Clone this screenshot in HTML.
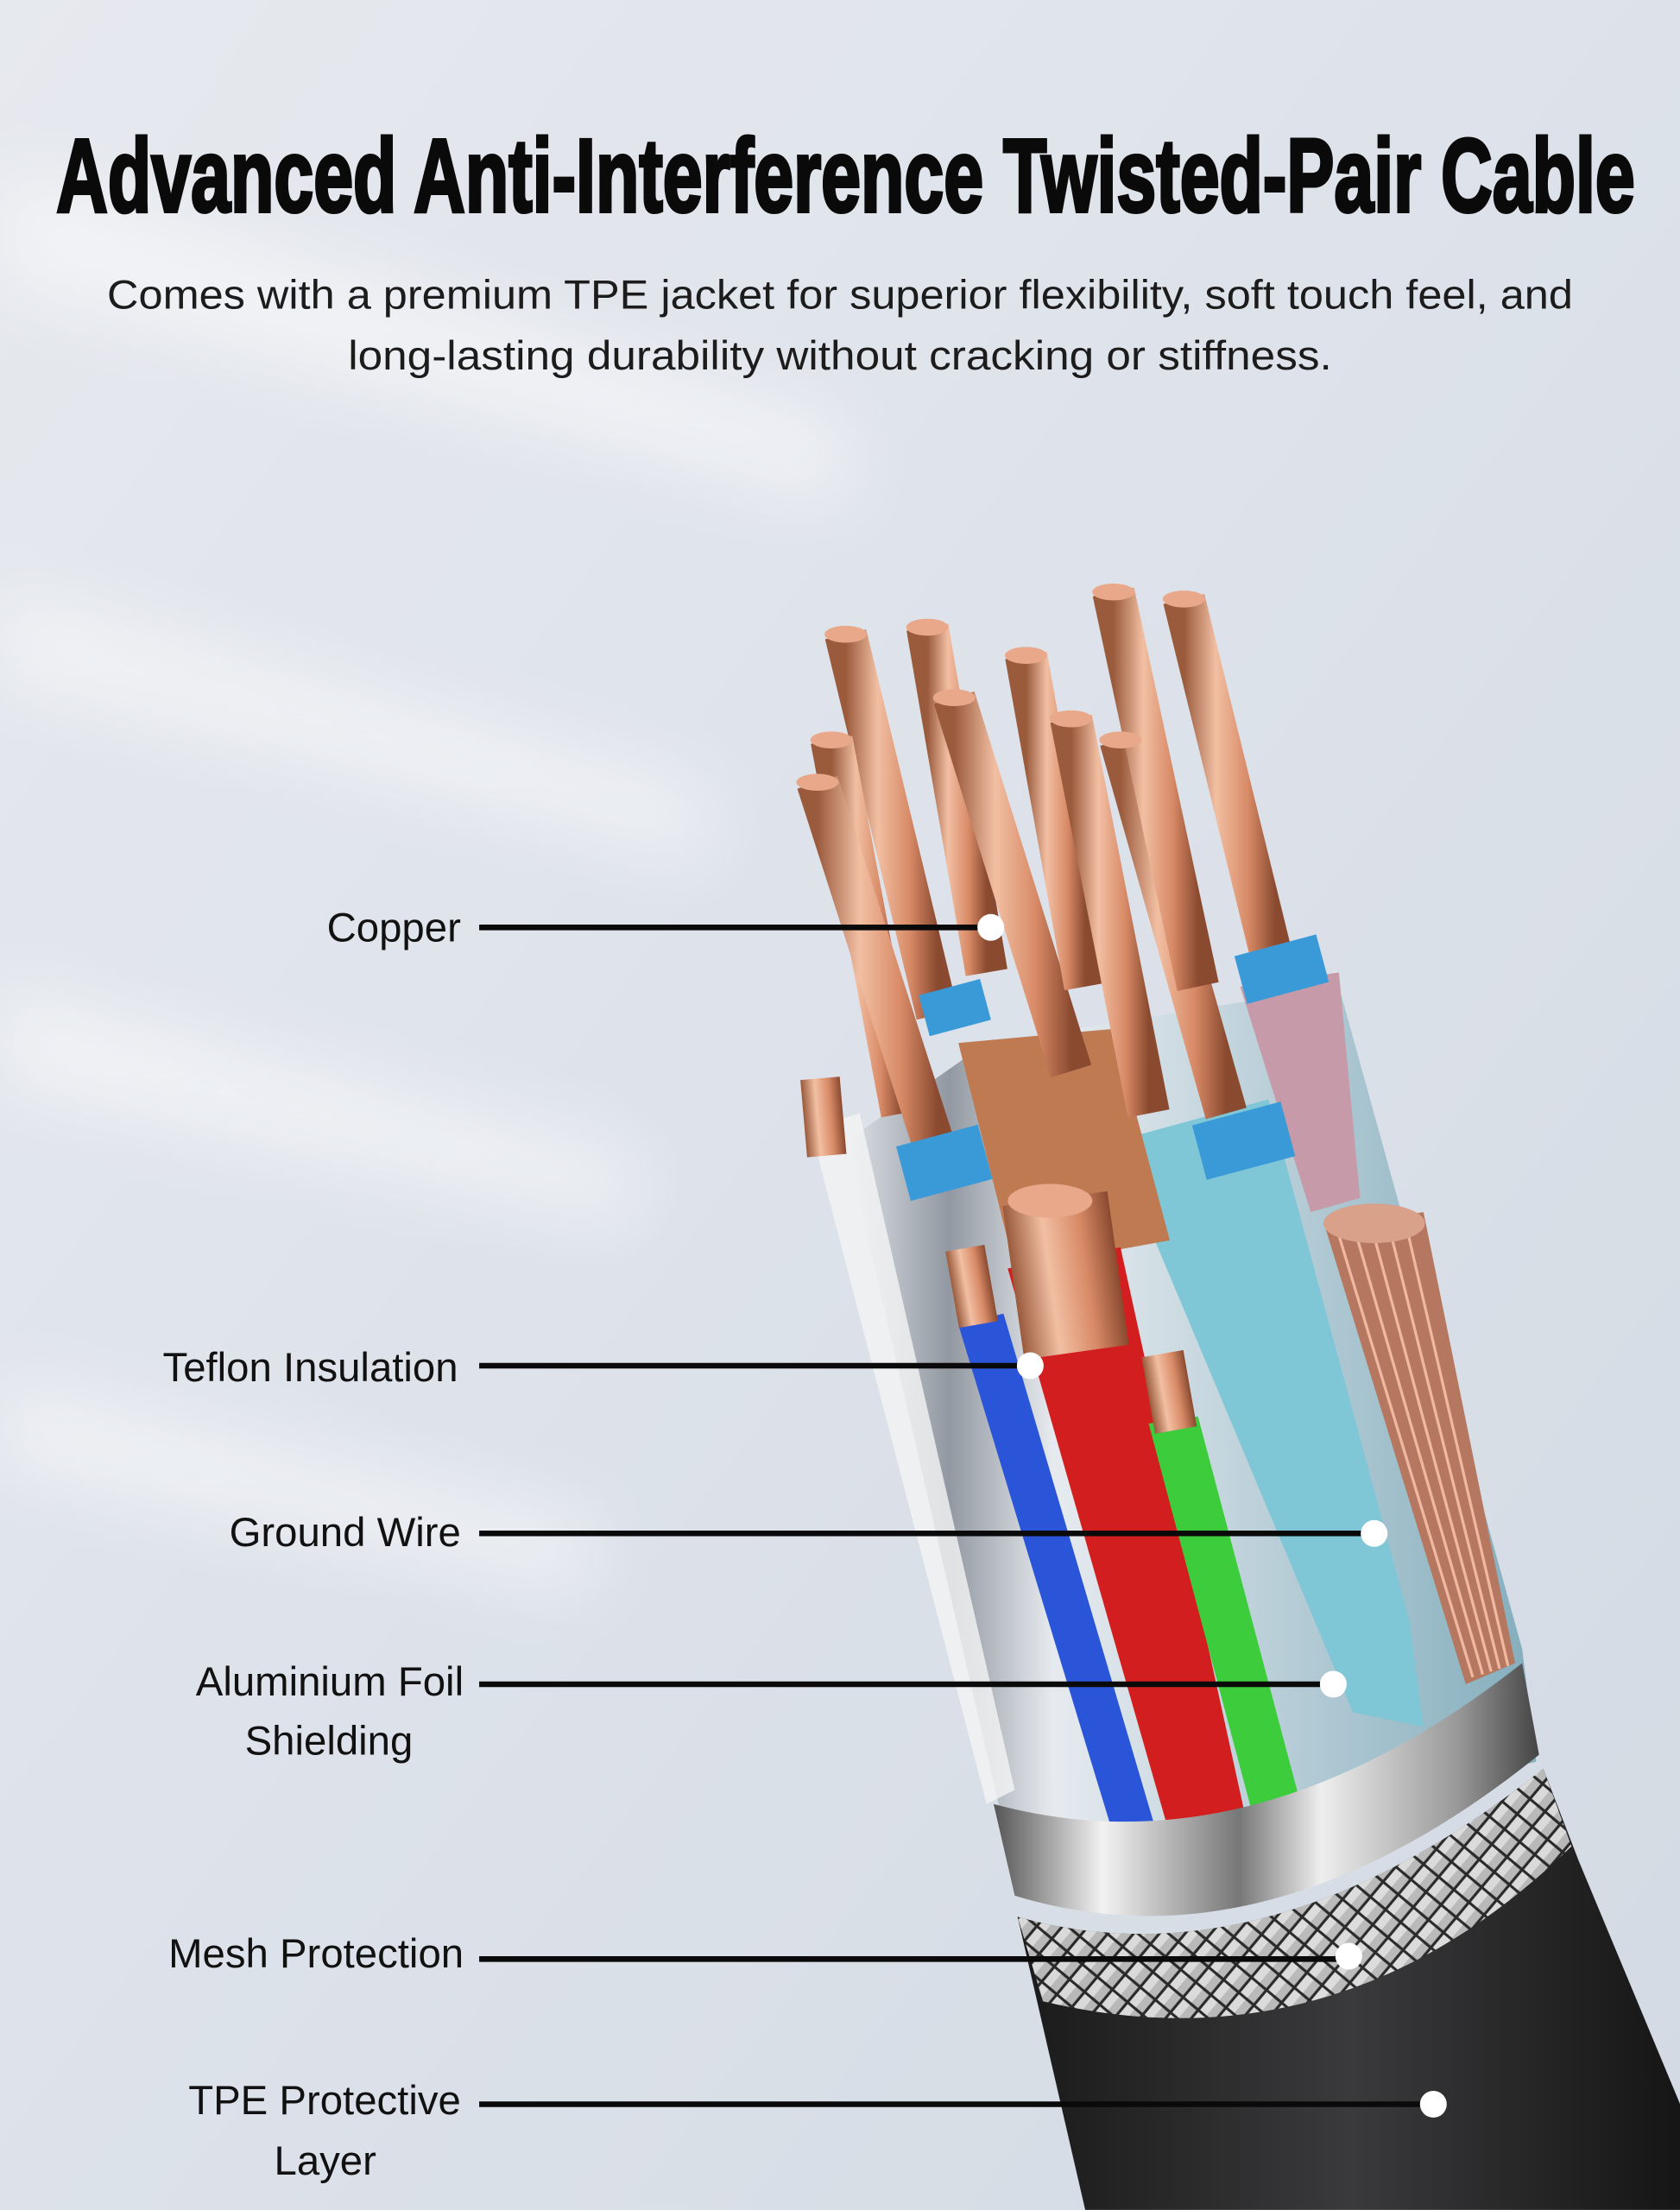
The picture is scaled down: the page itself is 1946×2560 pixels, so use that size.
<!DOCTYPE html>
<html><head><meta charset="utf-8"><style>
html,body{margin:0;padding:0;width:1946px;height:2560px;overflow:hidden;background:#e1e6ec}
svg{display:block}
</style></head><body>
<svg width="1946" height="2560" viewBox="0 0 1192 1568" xmlns="http://www.w3.org/2000/svg">
<defs>
<linearGradient id="bg" x1="0" y1="0" x2="1" y2="1">
<stop offset="0" stop-color="#e6e9ee"/><stop offset="0.5" stop-color="#dde2ea"/><stop offset="1" stop-color="#d3dae3"/></linearGradient>
<linearGradient id="cu" x1="0" y1="0" x2="1" y2="0">
<stop offset="0" stop-color="#9a5a3c"/><stop offset="0.35" stop-color="#f2bfa3"/><stop offset="0.7" stop-color="#d88a66"/><stop offset="1" stop-color="#8a4a30"/></linearGradient>
<linearGradient id="silver" x1="0" y1="0" x2="1" y2="0">
<stop offset="0" stop-color="#555"/><stop offset="0.2" stop-color="#f2f2f2"/><stop offset="0.45" stop-color="#777"/><stop offset="0.6" stop-color="#eee"/><stop offset="0.85" stop-color="#999"/><stop offset="1" stop-color="#444"/></linearGradient>
<linearGradient id="jk" x1="0" y1="0" x2="1" y2="0">
<stop offset="0" stop-color="#1a1a1a"/><stop offset="0.5" stop-color="#3a3a3c"/><stop offset="1" stop-color="#151515"/></linearGradient>
<pattern id="mesh" width="14" height="14" patternUnits="userSpaceOnUse" patternTransform="rotate(40)">
<rect width="14" height="14" fill="#2a2a2a"/><rect x="1" y="1" width="12" height="12" fill="#c9c9c9"/><rect x="1" y="1" width="6" height="12" fill="#eee"/></pattern>
<linearGradient id="foil" x1="0" y1="0" x2="1" y2="0">
<stop offset="0" stop-color="#dfe3e8"/><stop offset="0.15" stop-color="#8a9099"/><stop offset="0.3" stop-color="#e8ecf0"/><stop offset="1" stop-color="#7aa8b8"/></linearGradient>
<filter id="bl"><feGaussianBlur stdDeviation="25"/></filter>
</defs>
<rect width="1192" height="1568" fill="url(#bg)"/>
<g opacity="0.5" fill="#fff" filter="url(#bl)">
<polygon points="0,120 600,300 600,360 0,200"/><polygon points="0,420 500,560 500,610 0,480"/><polygon points="0,700 450,820 450,870 0,770"/><polygon points="0,980 420,1080 420,1130 0,1040"/>
</g>
<text x="600" y="150" text-anchor="middle" font-family="Liberation Sans, sans-serif" font-weight="bold" font-size="74" fill="#0a0a0a" stroke="#0a0a0a" stroke-width="2.5" textLength="1120" lengthAdjust="spacingAndGlyphs">Advanced Anti-Interference Twisted-Pair Cable</text>
<text x="596" y="219" text-anchor="middle" font-family="Liberation Sans, sans-serif" font-size="29" fill="#1c1c1c" textLength="1040" lengthAdjust="spacingAndGlyphs">Comes with a premium TPE jacket for superior flexibility, soft touch feel, and</text>
<text x="596" y="262" text-anchor="middle" font-family="Liberation Sans, sans-serif" font-size="29" fill="#1c1c1c" textLength="698" lengthAdjust="spacingAndGlyphs">long-lasting durability without cracking or stiffness.</text>

<!-- foil shield body -->
<polygon points="600,810 700,740 950,700 1080,1170 1090,1250 720,1330" fill="url(#foil)" opacity="0.9"/>
<polygon points="575,800 610,790 720,1270 700,1280" fill="#f4f4f4" opacity="0.8"/>
<polygon points="880,700 950,690 965,850 930,860" fill="#c69aa8"/>
<polygon points="790,810 900,780 1000,1150 1010,1225 960,1215" fill="#7fc6d6"/>
<polygon points="680,740 790,730 830,880 720,900" fill="#c07a52"/>
<!-- ground bundle -->
<polygon points="940,870 1010,860 1075,1180 1040,1195" fill="#b57760"/>
<g stroke="#f0b8a0" stroke-width="2">
<line x1="948" y1="870" x2="1045" y2="1190"/><line x1="960" y1="868" x2="1052" y2="1188"/><line x1="972" y1="866" x2="1058" y2="1186"/><line x1="984" y1="864" x2="1064" y2="1184"/><line x1="996" y1="862" x2="1070" y2="1182"/></g>
<ellipse cx="975" cy="868" rx="36" ry="14" fill="#d9a08a"/>
<!-- wires -->
<polygon points="680,940 712,932 820,1298 790,1302" fill="#2a55d8"/>
<polygon points="715,900 795,885 885,1295 830,1302" fill="#d21e1e"/>
<polygon points="815,1010 850,1005 925,1288 890,1292" fill="#3ccc3c"/>
<rect x="675" y="885" width="28" height="55" fill="url(#cu)" transform="rotate(-10 690 910)"/>
<rect x="718" y="850" width="75" height="110" fill="url(#cu)" transform="rotate(-8 755 900)"/>
<ellipse cx="745" cy="852" rx="30" ry="12" fill="#e9a88a"/>
<rect x="815" y="960" width="30" height="55" fill="url(#cu)" transform="rotate(-10 830 990)"/>
<rect x="570" y="765" width="28" height="55" fill="url(#cu)" transform="rotate(-5 584 790)"/>
<!-- copper rods -->
<g stroke="url(#cu)" stroke-width="30">
<line x1="600" y1="450" x2="665" y2="720"/><line x1="658" y1="445" x2="700" y2="690"/>
<line x1="590" y1="525" x2="640" y2="790"/><line x1="580" y1="555" x2="665" y2="820"/>
<line x1="677" y1="495" x2="760" y2="760"/><line x1="728" y1="465" x2="770" y2="700"/>
<line x1="760" y1="510" x2="815" y2="790"/><line x1="795" y1="525" x2="870" y2="790"/>
<line x1="790" y1="420" x2="850" y2="700"/><line x1="840" y1="425" x2="905" y2="690"/>
</g>
<g fill="#e9a88a">
<ellipse cx="600" cy="450" rx="15" ry="6"/><ellipse cx="658" cy="445" rx="15" ry="6"/><ellipse cx="590" cy="525" rx="15" ry="6"/><ellipse cx="580" cy="555" rx="15" ry="6"/><ellipse cx="677" cy="495" rx="15" ry="6"/><ellipse cx="728" cy="465" rx="15" ry="6"/><ellipse cx="760" cy="510" rx="15" ry="6"/><ellipse cx="795" cy="525" rx="15" ry="6"/><ellipse cx="790" cy="420" rx="15" ry="6"/><ellipse cx="840" cy="425" rx="15" ry="6"/>
</g>
<g fill="#3a9ad8"><rect x="655" y="700" width="45" height="30" transform="rotate(-15 677 715)"/><rect x="640" y="805" width="60" height="40" transform="rotate(-15 670 825)"/><rect x="850" y="790" width="65" height="40" transform="rotate(-15 880 810)"/><rect x="880" y="670" width="60" height="35" transform="rotate(-15 910 690)"/></g>
<!-- silver ring -->
<path d="M705,1280 Q890,1330 1080,1180 L1092,1245 Q900,1400 720,1345 Z" fill="url(#silver)"/>
<!-- mesh and jacket -->
<path d="M722,1360 Q900,1410 1095,1255 L1120,1320 L1195,1500 L1192,1568 L770,1568 Z" fill="url(#jk)"/>
<path d="M722,1360 Q900,1410 1095,1255 L1115,1310 Q950,1470 740,1420 Z" fill="url(#mesh)" opacity="0.9"/>
<!-- labels -->
<g font-family="Liberation Sans, sans-serif" font-size="29" fill="#111" text-anchor="end">
<text x="327" y="668">Copper</text>
<text x="325" y="980">Teflon Insulation</text>
<text x="327" y="1097">Ground Wire</text>
<text x="329" y="1203">Aluminium Foil</text>
<text x="293" y="1245">Shielding</text>
<text x="329" y="1396">Mesh Protection</text>
<text x="327" y="1500">TPE Protective</text>
<text x="267" y="1543">Layer</text>
</g>
<g stroke="#0a0a0a" stroke-width="4">
<line x1="340" y1="658" x2="703" y2="658"/><line x1="340" y1="969" x2="731" y2="969"/>
<line x1="340" y1="1088" x2="975" y2="1088"/><line x1="340" y1="1195" x2="946" y2="1195"/>
<line x1="340" y1="1390" x2="957" y2="1390"/><line x1="340" y1="1493" x2="1017" y2="1493"/>
</g>
<g fill="#fff"><circle cx="703" cy="658" r="9.5"/><circle cx="731" cy="969" r="9.5"/><circle cx="975" cy="1088" r="9.5"/><circle cx="946" cy="1195" r="9.5"/><circle cx="957" cy="1388" r="9.5"/><circle cx="1017" cy="1493" r="9.5"/></g>
</svg>
</body></html>
